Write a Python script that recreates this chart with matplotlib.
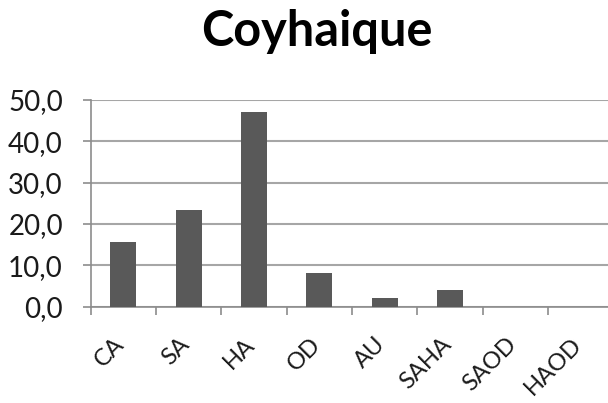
import matplotlib
matplotlib.use('Agg')
import matplotlib.pyplot as plt
import matplotlib.transforms as mtransforms
from matplotlib.ticker import FuncFormatter

categories = ['CA', 'SA', 'HA', 'OD', 'AU', 'SAHA', 'SAOD', 'HAOD']
values = [15.7, 23.4, 47.1, 8.0, 2.1, 4.0, 0.0, 0.0]
title = 'Coyhaique'

plt.rcParams['font.family'] = ['Lato', 'DejaVu Sans']

fig = plt.figure(figsize=(6.08, 4.03), dpi=100)
# axes run past the right edge, like the cropped original
ax = fig.add_axes([90.7/608, 96.5/403, 522.7/608, 206.5/403])

x = range(len(categories))
ax.bar(x, values, width=0.4, color='#595959', zorder=3)

ax.set_xlim(-0.5, len(categories) - 0.5)
ax.set_ylim(0, 50)
ax.set_yticks([0, 10, 20, 30, 40, 50])
ax.yaxis.set_major_formatter(FuncFormatter(lambda v, p: ('%.1f' % v).replace('.', ',')))
ax.grid(axis='y', color='#a6a6a6', linewidth=1.5, zorder=0)

ax.set_xticks([i - 0.5 for i in range(len(categories) + 1)], minor=False)
ax.set_xticklabels([''] * (len(categories) + 1))
ax.set_xticks(list(x), minor=True)
ax.set_xticklabels(categories, minor=True, rotation=45, ha='right', va='top',
                   fontsize=17, color='#1a1a1a')
ax.tick_params(axis='x', which='minor', length=0, pad=16)
ax.tick_params(axis='x', which='major', length=6, width=1.2, color='#8c8c8c')
ax.tick_params(axis='y', length=6, width=1.2, color='#8c8c8c', labelsize=20,
               labelcolor='#1a1a1a', pad=14)

# nudge the slanted labels a bit right and down
shift = mtransforms.ScaledTranslation(0.05, -0.05, fig.dpi_scale_trans)
for lab in ax.get_xticklabels(minor=True):
    lab.set_transform(lab.get_transform() + shift)

for s in ['top', 'right']:
    ax.spines[s].set_visible(False)
for s in ['left', 'bottom']:
    ax.spines[s].set_color('#8c8c8c')
    ax.spines[s].set_linewidth(1.2)

fig.text(317/608, 1 - 31/403, title, ha='center', va='center', fontsize=35,
         fontweight='bold', color='#000000')

fig.savefig('out.png', dpi=100)
